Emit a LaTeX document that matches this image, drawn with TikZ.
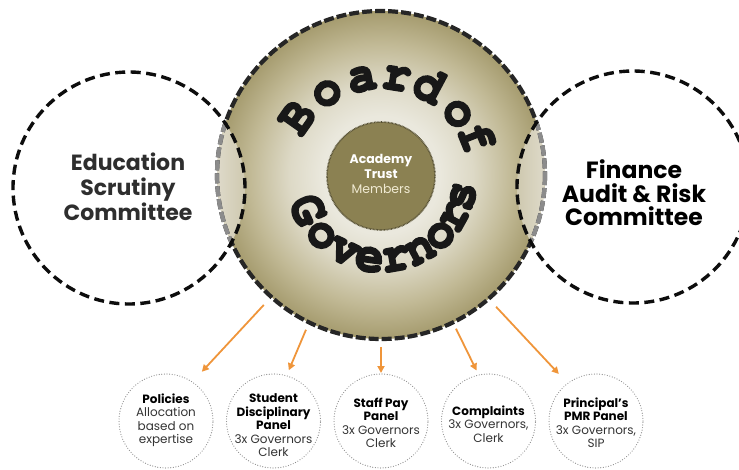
\documentclass[tikz,border=0pt]{standalone}
\usepackage[T1,TU]{fontenc}
\usepackage{fontspec}
\setmainfont{Poppins}
\newcommand\slabtype{\fontencoding{T1}\fontfamily{pcr}\fontseries{b}\fontshape{n}\selectfont}
% heavier strokes for the slab letters: fill and stroke the glyph outlines
\newcommand\heavy[1]{\scalebox{0.92}[1]{\special{pdf:code q 2 Tr 2.2 w 1 j}#1\special{pdf:code Q}}}
\usetikzlibrary{arrows.meta}

\definecolor{boardA}{RGB}{234,232,221}
\definecolor{boardB}{RGB}{221,217,198}
\definecolor{boardC}{RGB}{193,185,149}
\definecolor{boardD}{RGB}{165,155,110}
\definecolor{lensL}{RGB}{225,221,206}
\definecolor{lensR}{RGB}{205,199,173}
\definecolor{trustfill}{RGB}{139,129,82}
\definecolor{trustedge}{RGB}{86,80,52}
\definecolor{membertext}{RGB}{240,234,210}
\definecolor{arrowc}{RGB}{239,149,58}
\definecolor{ink}{RGB}{24,24,24}

\pgfdeclareradialshading{boardgrad}{\pgfpoint{0bp}{0bp}}{%
  color(0bp)=(boardA); color(9bp)=(boardA); color(14bp)=(boardB);
  color(20bp)=(boardC); color(25bp)=(boardD); color(50bp)=(boardD)}

\begin{document}
\begin{tikzpicture}[x=1pt,y=-1pt,
  boardnode/.style={circle, minimum size=328pt, inner sep=0pt, outer sep=0pt, shading=boardgrad},
  boardline/.style={line width=4.2pt, dash pattern=on 10pt off 3pt},
  committee/.style={circle, minimum size=232pt, inner sep=0pt, outer sep=0pt,
    draw=black!95, line width=3.4pt, dash pattern=on 10pt off 5.5pt},
  committeetext/.style={align=center, inner sep=0pt, font=\bfseries\fontsize{22}{25}\selectfont},
  trust/.style={circle, minimum size=108pt, inner sep=0pt, outer sep=0pt, fill=trustfill,
    draw=trustedge, line width=1.6pt, dash pattern=on 0.7pt off 0.7pt},
  arcletter/.style={font=\slabtype\fontsize{52}{52}\selectfont, text=ink, inner sep=0pt, anchor=mid},
  panel/.style={circle, minimum size=94pt, inner sep=0pt, outer sep=0pt,
    draw=black!45, line width=1.2pt, dash pattern=on 0pt off 2.6pt, line cap=round},
  paneltext/.style={align=center, anchor=north, inner sep=0pt, text=black!80,
    font=\fontsize{12}{13.5}\selectfont},
  feed/.style={draw=arrowc, line width=1.8pt, -{Triangle[length=7pt,width=7pt]}}
]
\useasboundingbox (0,0) rectangle (739,469);

% board of governors disc
\node[boardnode] (board) at (381,175) {};

% lighter lenses where the committees overlap the board
\begin{scope}
  \clip (381,175) circle [radius=164];
  \clip (129,188) circle [radius=116] (633,187) circle [radius=116];
  \shade[left color=lensL, right color=lensR] (212,90) rectangle (248,270);
  \shade[left color=lensR, right color=lensL] (514,90) rectangle (550,270);
\end{scope}

% board outline, greyed inside the overlaps
\draw[boardline, draw=black!85] (381,175) circle [radius=164];
\begin{scope}
  \clip (129,188) circle [radius=116] (633,187) circle [radius=116];
  \draw[boardline, draw=black!45] (381,175) circle [radius=164];
\end{scope}

% committees
\node[committee] (edu) at (129,188) {};
\node[committee] (fin) at (633,187) {};
\node[committeetext, text=black!82] (edutext) at (128,187) {Education\\Scrutiny\\Committee};
\node[committeetext, text=black, font=\bfseries\fontsize{23.5}{23.5}\selectfont] (fintext) at (634,193) {Finance\\Audit \& Risk\\Committee};

% academy trust members
\node[trust] (trust) at (381,176) {};
\node[align=center, inner sep=0pt, text=white, font=\fontsize{12.5}{15}\selectfont] (trusttext) at (381,174)
  {\textbf{Academy}\\\textbf{Trust}\\\textcolor{membertext}{Members}};

% curved title
\foreach \ch/\ang in {B/-145,o/-123,a/-101,r/-81,d/-62,o/-39,f/-22}
  \node[arcletter, rotate={-1*(\ang)-90}] at ([shift={(381,176)}]\ang:90) {\heavy{\ch}};
\foreach \ch/\ang in {G/155,o/135,v/116,e/98,r/80,n/62,o/45,r/29,s/14}
  \node[arcletter, rotate={90-\ang}] at ([shift={(381,176)}]\ang:93) {\heavy{\ch}};

% panels
\node[panel] (p1) at (166,421) {};
\node[panel] (p2) at (273.5,421) {};
\node[panel] (p3) at (381,421) {};
\node[panel] (p4) at (488.5,421) {};
\node[panel] (p5) at (596,421) {};

\node[paneltext] (t1) at (166,393.5) {\textcolor{black}{\bfseries Policies}\\Allocation\\based on\\expertise};
\node[paneltext] (t2) at (273.5,393.5) {\textcolor{black}{\bfseries Student}\\\textcolor{black}{\bfseries Disciplinary}\\\textcolor{black}{\bfseries Panel}\\3x Governors\\Clerk};
\node[paneltext] (t3) at (381,397.5) {\textcolor{black}{\bfseries Staff Pay}\\\textcolor{black}{\bfseries Panel}\\3x Governors\\Clerk};
\node[paneltext] (t4) at (488.5,405.5) {\textcolor{black}{\bfseries Complaints}\\3x Governors,\\Clerk};
\node[paneltext] (t5) at (596,397.5) {\textcolor{black}{\bfseries Principal's}\\\textcolor{black}{\bfseries PMR Panel}\\3x Governors,\\SIP};

% delegation arrows
\draw[feed, shorten <=11pt, shorten >=14pt] (board.-132) -- (p1.56);
\draw[feed, shorten <=8pt, shorten >=6pt] (board.-116) -- (p2.74);
\draw[feed, shorten <=8pt, shorten >=1pt] (board.-90) -- (p3.90);
\draw[feed, shorten <=7pt, shorten >=5pt] (board.-64) -- (p4.102);
\draw[feed, shorten <=11pt, shorten >=13pt] (board.-49) -- (p5.127);
\end{tikzpicture}
\end{document}
